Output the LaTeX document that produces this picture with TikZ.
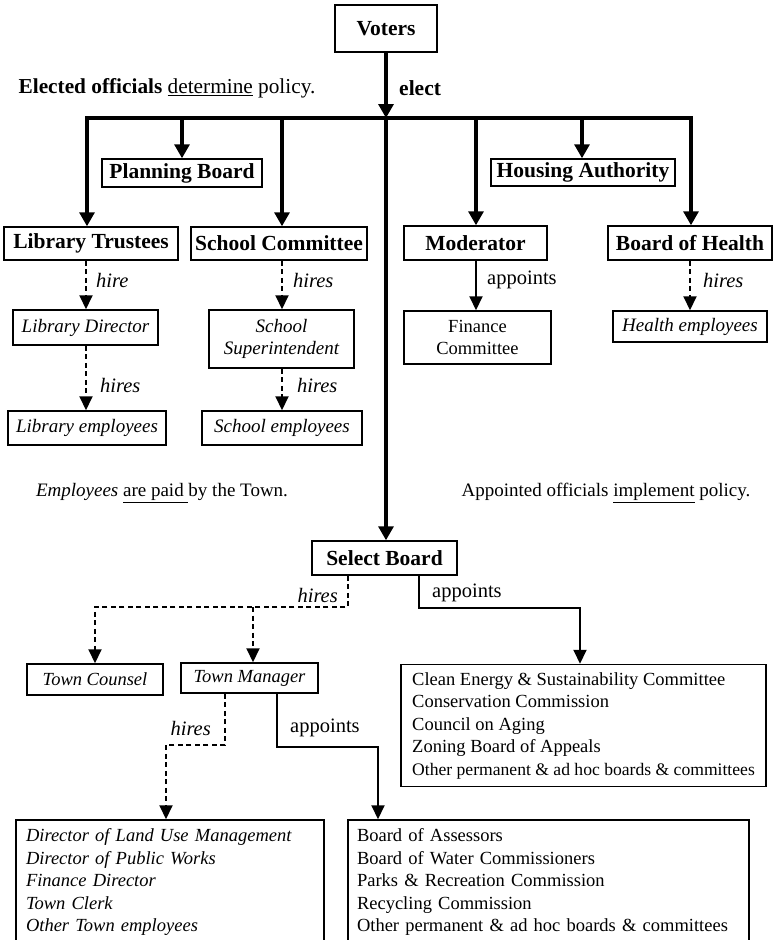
\documentclass[tikz,border=0pt]{standalone}
\usepackage{fontspec}
\setmainfont{Liberation Serif}
\usetikzlibrary{arrows.meta}
\tikzset{
  box/.style={draw, line width=1.5pt, inner sep=0pt, align=center},
  tbox/.style={box, font=\fontsize{21.5}{25}\selectfont\bfseries},
  ibox/.style={box, font=\fontsize{19}{22.5}\selectfont\itshape},
  rbox/.style={box, font=\fontsize{18.5}{22.5}\selectfont},
  lbox/.style={draw, line width=1.5pt, align=left, inner xsep=10pt, inner ysep=0pt, font=\fontsize{18.5}{22.5}\selectfont},
  thickarrow/.style={line width=3.2pt, -{Triangle[length=14pt,width=15pt]}},
  thinarrow/.style={line width=2pt, -{Triangle[length=14pt,width=13pt]}},
  dasharrow/.style={thinarrow, dash pattern=on 5pt off 3.5pt},
  hlab/.style={inner sep=0pt, font=\fontsize{20.5}{24}\selectfont\itshape},
  alab/.style={inner sep=0pt, font=\fontsize{20.5}{24}\selectfont},
  note/.style={inner sep=0pt, font=\fontsize{19}{23}\selectfont},
}
\begin{document}
\begin{tikzpicture}[x=1pt,y=-1pt]
\useasboundingbox (0,0) rectangle (775,940);

% top level
\node[tbox, minimum width=102pt, minimum height=47pt] (voters) at (386,28.5) {Voters};
\node[inner sep=0pt, font=\fontsize{21.5}{25}\selectfont\bfseries, anchor=west] (elect) at (399,88) {elect};
\node[inner sep=0pt, font=\fontsize{21.3}{25}\selectfont] (elected) at (167,88) {\textbf{Elected officials} \underline{determine} policy.};

\node[tbox, minimum width=160pt, minimum height=28pt] (pb) at (182,173) {Planning Board};
\node[tbox, minimum width=184pt, minimum height=27pt] (ha) at (583,172.5) {Housing Authority};
\node[tbox, minimum width=174pt, minimum height=33pt] (lt) at (91,243.5) {Library Trustees};
\node[tbox, minimum width=176pt, minimum height=33pt] (sc) at (279,243.5) {School Committee};
\node[tbox, minimum width=143pt, minimum height=34pt] (mod) at (475.5,243) {Moderator};
\node[tbox, minimum width=164pt, minimum height=34pt] (boh) at (690,243) {Board of Health};

\node[ibox, minimum width=145pt, minimum height=35pt] (ld) at (85.5,327.5) {Library Director};
\node[ibox, minimum width=158pt, minimum height=34pt] (le) at (87,428) {Library employees};
\node[ibox, minimum width=145pt, minimum height=58pt] (ss) at (281.5,339) {School\\Superintendent};
\node[ibox, minimum width=160pt, minimum height=34pt] (se) at (282,428) {School employees};
\node[rbox, minimum width=147pt, minimum height=53pt] (fc) at (477.5,337.5) {Finance\\Committee};
\node[ibox, minimum width=154pt, minimum height=31pt] (he) at (690,326.5) {Health employees};

% junctions on the bar
\coordinate (jv) at (386,118);
\coordinate (jl) at (87,118);
\coordinate (jr) at (691,118);
\coordinate (jpb) at (182,118);
\coordinate (jsc) at (282,118);
\coordinate (jmod) at (476,118);
\coordinate (jha) at (582,118);

\draw[thickarrow] (voters) -- (jv);
\draw[thickarrow] (jv) -- (jl) -- (jl |- lt.north);
\draw[thickarrow] (jv) -- (jr) -- (jr |- boh.north);
\draw[thickarrow] (jpb) -- (jpb |- pb.north);
\draw[thickarrow] (jsc) -- (jsc |- sc.north);
\draw[thickarrow] (jmod) -- (jmod |- mod.north);
\draw[thickarrow] (jha) -- (jha |- ha.north);

% second level
\coordinate (xl) at (86,0);
\coordinate (xs) at (282,0);
\coordinate (xm) at (476,0);
\coordinate (xh) at (690,0);
\draw[dasharrow] (lt.south -| xl) -- (ld.north -| xl);
\draw[dasharrow] (ld.south -| xl) -- (le.north -| xl);
\draw[dasharrow] (sc.south -| xs) -- (ss.north -| xs);
\draw[dasharrow] (ss.south -| xs) -- (se.north -| xs);
\draw[thinarrow] (mod.south -| xm) -- (fc.north -| xm);
\draw[dasharrow] (boh.south -| xh) -- (he.north -| xh);

\node[hlab, anchor=west] (l1) at (96,280) {hire};
\node[hlab, anchor=west] (l2) at (100,385) {hires};
\node[hlab, anchor=west] (l3) at (293,280) {hires};
\node[hlab, anchor=west] (l4) at (297,385) {hires};
\node[alab, anchor=west] (l5) at (487,280) {appoints};
\node[hlab, anchor=west] (l6) at (703,280) {hires};

% notes
\node[note] (emp) at (162,493) {\textit{Employees} \underline{are paid\ }by the Town.};
\node[note] (app) at (606,493) {Appointed officials \underline{implement} policy.};

% select board
\node[tbox, minimum width=145pt, minimum height=34pt] (sb) at (384.5,558) {Select Board};
\draw[thickarrow] (jv) -- (sb.north -| jv);

\node[ibox, font=\fontsize{18.5}{22.5}\selectfont\itshape, minimum width=136pt, minimum height=31pt] (tc) at (95,679.5) {Town Counsel};
\node[ibox, font=\fontsize{18.5}{22.5}\selectfont\itshape, minimum width=137pt, minimum height=30pt] (tm) at (249.5,678) {Town Manager};

\node[lbox, inner xsep=0pt, minimum width=365pt, minimum height=122pt] (rb1) at (583.5,725.5) {Clean Energy \& Sustainability Committee\\Conservation Commission\\Council on Aging\\Zoning Board of Appeals\\{\fontsize{17.6}{22.5}\selectfont Other permanent \& ad hoc boards \& committees}};

\node[lbox, font=\fontsize{18.5}{22.5}\selectfont\itshape, text width=288pt, minimum height=124pt] (lb) at (170,882) {Director of Land Use Management\\Director of Public Works\\Finance Director\\Town Clerk\\Other Town employees};

\node[lbox, inner xsep=9pt, text width=383pt, minimum height=124pt] (rb2) at (548.5,882) {Board of Assessors\\Board of Water Commissioners\\Parks \& Recreation Commission\\Recycling Commission\\Other permanent \& ad hoc boards \& committees};

% select board connectors
\coordinate (hs) at (348,607);
\coordinate (hb) at (253,607);
\draw[dasharrow] (sb.south -| hs) -- (hs) -| (tc.north);
\draw[dasharrow] (hb) -- (hb |- tm.north);
\coordinate (sa) at (419,608);
\coordinate (xr1) at (580,0);
\draw[thinarrow] (sb.south -| sa) -- (sa) -| (rb1.north -| xr1);
\node[hlab, anchor=east] (l7) at (338,595) {hires};
\node[alab, anchor=west] (l8) at (432,593) {appoints};

% town manager connectors
\coordinate (th) at (225,745);
\coordinate (xlb) at (166,0);
\draw[dasharrow] (tm.south -| th) -- (th) -| (lb.north -| xlb);
\coordinate (ta) at (277,747);
\coordinate (xrb) at (378,0);
\draw[thinarrow] (tm.south -| ta) -- (ta) -| (rb2.north -| xrb);
\node[hlab, anchor=east] (l9) at (211,728) {hires};
\node[alab, anchor=west] (l10) at (290,728) {appoints};
\end{tikzpicture}
\end{document}
